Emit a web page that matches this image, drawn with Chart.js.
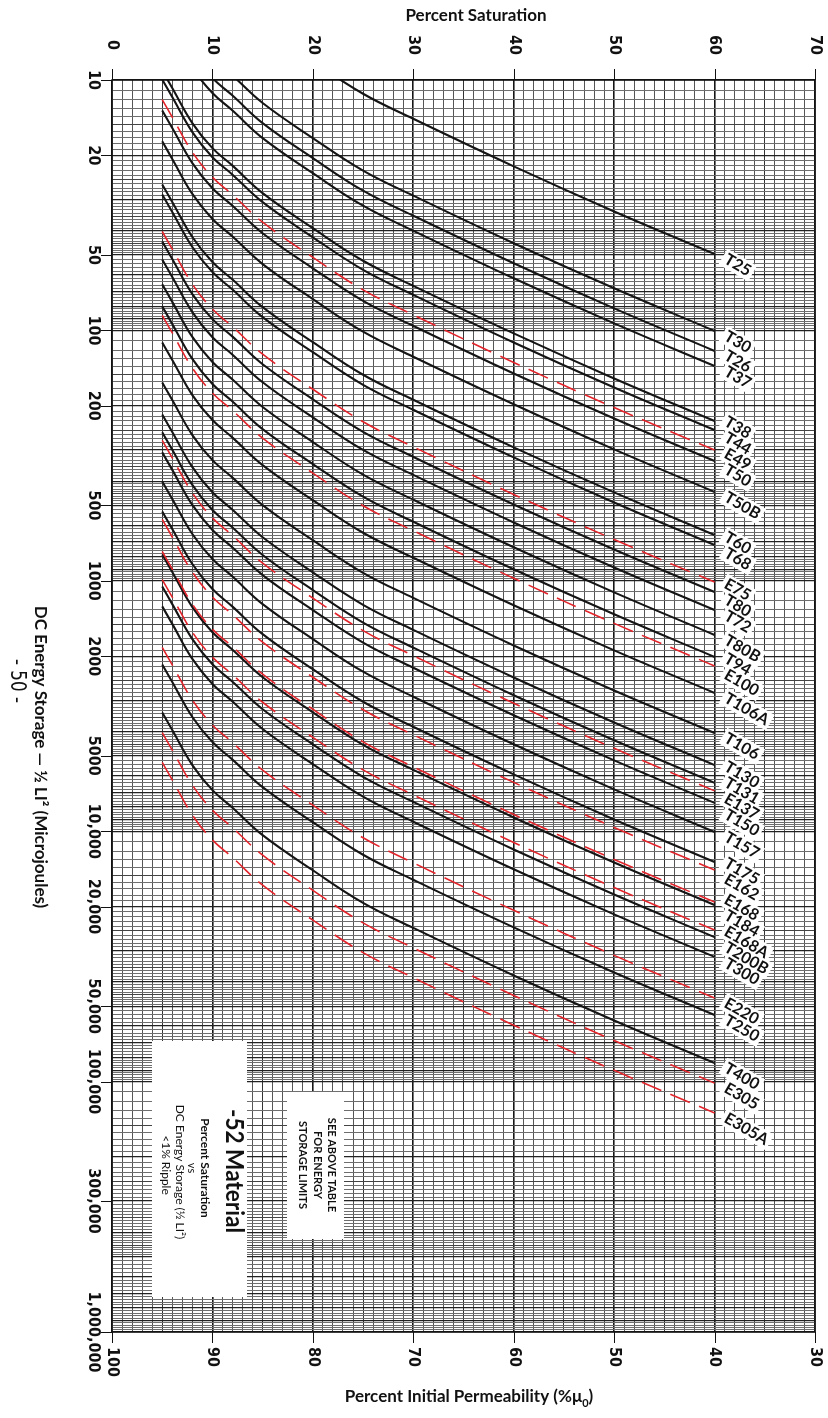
<!DOCTYPE html>
<html>
<head>
<meta charset="utf-8">
<script src="https://cdn.jsdelivr.net/npm/chart.js@4.4.1/dist/chart.umd.min.js"></script>
<style>
html,body{margin:0;padding:0;background:#fff;}
canvas{display:block;}
</style>
</head>
<body>
<canvas id="c" width="828" height="1418"></canvas>
<script>
// ---------------- DATA ----------------
// Percent saturation at which each curve was read
const saturationPoints = [5, 6, 8, 10, 12, 15, 20, 25, 30, 40, 50, 60];

// DC energy storage (microjoules) of each core at those saturation points
const T25   = [1.972, 2.317, 3.199, 4.027, 4.732, 6.096, 8.414, 11.35, 14.29, 22.13, 33.50, 49.55];
const T30   = [4.000, 4.699, 6.487, 8.166, 9.594, 12.36, 17.06, 23.01, 28.97, 44.87, 67.92, 100.5];
const T26   = [4.808, 5.649, 7.798, 9.818, 11.53, 14.86, 20.51, 27.67, 34.83, 53.95, 81.66, 120.8];
const T37   = [5.521, 6.487, 8.954, 11.27, 13.24, 17.06, 23.55, 31.77, 39.99, 61.95, 93.76, 138.7];
const T38   = [9.163, 10.77, 14.86, 18.71, 21.98, 28.31, 39.08, 52.72, 66.38, 102.8, 155.6, 230.2];
const T44   = [9.954, 11.70, 16.15, 20.33, 23.88, 30.76, 42.47, 57.28, 72.11, 111.7, 169.0, 250.1];
const E49   = [11.97, 14.06, 19.41, 24.44, 28.71, 36.98, 51.06, 68.87, 86.70, 134.3, 203.3, 300.6];
const T50   = [13.24, 15.56, 21.48, 27.04, 31.77, 40.93, 56.49, 76.21, 95.94, 148.6, 224.9, 332.6];
const T50B  = [17.58, 20.66, 28.51, 35.90, 42.18, 54.33, 75.00, 101.2, 127.4, 197.2, 298.6, 441.6];
const T60   = [26.12, 30.69, 42.37, 53.33, 62.67, 80.73, 111.4, 150.4, 189.2, 293.1, 443.6, 656.2];
const T68   = [28.64, 33.65, 46.45, 58.48, 68.71, 88.52, 122.2, 164.9, 207.5, 321.4, 486.4, 719.5];
const E75   = [40.27, 47.32, 65.32, 82.23, 96.61, 124.5, 171.8, 231.7, 291.7, 451.9, 684.0, 1012];
const T80   = [44.16, 51.89, 71.61, 90.16, 105.9, 136.5, 188.4, 254.1, 319.9, 495.5, 750.0, 1109];
const T72   = [52.12, 61.24, 84.53, 106.5, 125.0, 161.1, 222.4, 299.9, 377.6, 584.8, 885.2, 1309];
const T80B  = [65.47, 76.92, 106.2, 133.7, 157.1, 202.3, 279.2, 376.7, 474.2, 734.5, 1112, 1645];
const T94   = [80.17, 94.20, 130.0, 163.7, 192.3, 247.8, 342.0, 461.3, 580.8, 899.6, 1361, 2014];
const E100  = [87.10, 102.3, 141.3, 177.8, 208.9, 269.2, 371.5, 501.2, 631.0, 977.2, 1479, 2188];
const T106A = [111.7, 131.2, 181.2, 228.1, 268.0, 345.1, 476.4, 642.8, 809.1, 1253, 1896, 2805];
const T106  = [161.5, 189.6, 261.8, 329.6, 387.2, 498.9, 688.7, 929.0, 1170, 1812, 2742, 4055];
const T130  = [216.8, 254.7, 351.6, 442.6, 520.0, 669.9, 924.8, 1247, 1571, 2433, 3681, 5445];
const T131  = [255.3, 299.9, 414.1, 521.2, 612.4, 788.9, 1089, 1469, 1849, 2864, 4335, 6413];
const E137  = [274.8, 322.9, 445.7, 561.0, 659.2, 849.2, 1172, 1581, 1991, 3083, 4666, 6902];
const T150  = [306.9, 360.6, 497.8, 626.7, 736.2, 948.5, 1309, 1766, 2224, 3443, 5212, 7709];
const T157  = [400.9, 471.0, 650.2, 818.5, 961.7, 1239, 1710, 2307, 2904, 4498, 6808, 10070];
const T175  = [528.5, 620.9, 857.1, 1079, 1268, 1633, 2255, 3041, 3828, 5929, 8975, 13270];
const E162  = [568.9, 668.4, 922.7, 1161, 1365, 1758, 2427, 3273, 4121, 6383, 9661, 14290];
const E168  = [763.9, 897.5, 1239, 1560, 1833, 2361, 3259, 4396, 5533, 8571, 12970, 19190];
const T184  = [785.3, 922.7, 1274, 1604, 1884, 2427, 3350, 4519, 5689, 8812, 13340, 19720];
const E168A = [988.6, 1161, 1604, 2018, 2371, 3055, 4218, 5689, 7161, 11090, 16790, 24830];
const T200B = [1054, 1239, 1710, 2153, 2529, 3259, 4498, 6068, 7639, 11830, 17910, 26490];
const T300  = [1265, 1486, 2051, 2582, 3034, 3908, 5395, 7278, 9163, 14190, 21480, 31770];
const E220  = [1845, 2168, 2992, 3767, 4426, 5702, 7871, 10620, 13370, 20700, 31330, 46350];
const T250  = [2158, 2535, 3499, 4406, 5177, 6669, 9205, 12420, 15630, 24210, 36650, 54200];
const T400  = [3357, 3945, 5445, 6855, 8054, 10370, 14320, 19320, 24330, 37670, 57020, 84340];
const E305  = [4037, 4742, 6547, 8242, 9683, 12470, 17220, 23230, 29240, 45290, 68550, 101400];
const E305A = [5309, 6238, 8610, 10840, 12740, 16410, 22650, 30550, 38460, 59560, 90160, 133400];

const coreNames = ['T25','T30','T26','T37','T38','T44','E49','T50','T50B','T60','T68','E75','T80','T72',
  'T80B','T94','E100','T106A','T106','T130','T131','E137','T150','T157','T175','E162','E168','T184',
  'E168A','T200B','T300','E220','T250','T400','E305','E305A'];
const coreValues = [T25,T30,T26,T37,T38,T44,E49,T50,T50B,T60,T68,E75,T80,T72,T80B,T94,E100,T106A,T106,
  T130,T131,E137,T150,T157,T175,E162,E168,T184,E168A,T200B,T300,E220,T250,T400,E305,E305A];

// Axis tick labels
const energyTicks = [10, 20, 50, 100, 200, 500, 1000, 2000, 5000, 10000, 20000, 50000, 100000, 300000, 1000000];
const energyTickLabels = ['10','20','50','100','200','500','1000','2000','5000','10,000','20,000','50,000','100,000','300,000','1,000,000'];
const saturationTicks = [0, 10, 20, 30, 40, 50, 60, 70];
const permeabilityTicks = [100, 90, 80, 70, 60, 50, 40, 30];

// ---------------- GRAPH-PAPER GRID (style only) ----------------
const satGrid = [];
for (let v = 0; v <= 70; v++) satGrid.push({ value: v, lvl: v % 10 === 0 ? 2 : (v % 5 === 0 ? 1 : 0) });
const energyGrid = [];
for (let d = 1; d <= 5; d++) {
  const b = Math.pow(10, d);
  const push = m => energyGrid.push({ value: m / 10 * b, lvl: m % 10 === 0 ? 2 : (m % 5 === 0 ? 1 : 0) });
  for (let m = 10; m < 50; m++) push(m);
  for (let m = 50; m < 100; m += 2) push(m);
}
energyGrid.push({ value: 1e6, lvl: 2 });

// ---------------- DATASETS ----------------
const datasets = coreNames.map((name, i) => {
  const isE = name[0] === 'E';
  return {
    label: name,
    data: saturationPoints.map((s, k) => ({ x: s, y: coreValues[i][k] })),
    borderColor: isE ? '#e3242b' : '#151515',
    borderWidth: isE ? 1.6 : 2.1,
    borderDash: isE ? [21, 10] : [],
    pointRadius: 0,
    fill: false,
    tension: 0.4,
    order: isE ? 0 : 1,
    xAxisID: 'x',
    yAxisID: 'y'
  };
});

// ---------------- TEXT / ANNOTATION PLUGIN ----------------
const NUM_FONT = '"Liberation Sans Narrow", "DejaVu Sans Condensed", "Roboto Condensed", Lato, sans-serif';
const TXT_FONT = 'Lato, "Open Sans", "Noto Sans", sans-serif';

function rotText(ctx, text, x, y, font, align, maxW) {
  ctx.save();
  ctx.translate(x, y);
  ctx.rotate(Math.PI / 2);
  ctx.font = font;
  ctx.textAlign = align || 'center';
  ctx.textBaseline = 'middle';
  ctx.fillStyle = '#111';
  if (maxW) ctx.fillText(text, 0, 0, maxW); else ctx.fillText(text, 0, 0);
  ctx.restore();
}

const annotate = {
  id: 'annotate',
  afterDraw(chart) {
    const ctx = chart.ctx;
    const xs = chart.scales.x, x2 = chart.scales.x2, ys = chart.scales.y;
    const a = chart.chartArea;
    ctx.save();

    // frame
    ctx.strokeStyle = '#111';
    ctx.lineWidth = 1.5;
    ctx.strokeRect(a.left, a.top, a.right - a.left, a.bottom - a.top);

    // tick marks
    ctx.lineWidth = 1;
    ctx.beginPath();
    saturationTicks.forEach(v => { const x = Math.round(xs.getPixelForValue(v)) + 0.5; ctx.moveTo(x, a.top - 11); ctx.lineTo(x, a.top); });
    permeabilityTicks.forEach(v => { const x = Math.round(x2.getPixelForValue(v)) + 0.5; ctx.moveTo(x, a.bottom); ctx.lineTo(x, a.bottom + 11); });
    energyTicks.forEach(v => { const y = Math.round(ys.getPixelForValue(v)) + 0.5; ctx.moveTo(a.left - 11, y); ctx.lineTo(a.left, y); });
    ctx.stroke();

    // tick labels (rotated like the reference)
    const tf = 'bold 16px ' + NUM_FONT;
    saturationTicks.forEach(v => rotText(ctx, String(v), xs.getPixelForValue(v), 45, tf));
    permeabilityTicks.forEach(v => rotText(ctx, String(v), x2.getPixelForValue(v), 1347, tf, 'left'));
    energyTicks.forEach((v, i) => rotText(ctx, energyTickLabels[i], 93, ys.getPixelForValue(v), tf));

    // axis titles
    ctx.fillStyle = '#111';
    ctx.textBaseline = 'middle';
    ctx.textAlign = 'center';
    ctx.font = 'bold 17px ' + TXT_FONT;
    ctx.fillText('Percent Saturation', 476, 16, 162);
    const t1 = 'Percent Initial Permeability (%\u03BC';
    ctx.font = 'bold 17px ' + TXT_FONT;
    const w1 = ctx.measureText(t1).width;
    ctx.font = 'bold 11px ' + TXT_FONT;
    const w2 = ctx.measureText('0').width;
    ctx.font = 'bold 17px ' + TXT_FONT;
    const w3 = ctx.measureText(')').width;
    const tot = w1 + w2 + w3;
    const sx = 469 - tot / 2;
    ctx.textAlign = 'left';
    ctx.fillText(t1, sx, 1397);
    ctx.font = 'bold 11px ' + TXT_FONT;
    ctx.fillText('0', sx + w1, 1403);
    ctx.font = 'bold 17px ' + TXT_FONT;
    ctx.fillText(')', sx + w1 + w2, 1397);

    rotText(ctx, 'DC Energy Storage \u2014 \u00BD LI\u00B2 (Microjoules)', 40, 757, 'bold 17px ' + TXT_FONT, 'center', 358);
    rotText(ctx, '- 50 -', 17, 681, '22px ' + NUM_FONT, 'center', 44);

    // annotation boxes
    ctx.fillStyle = '#fff';
    ctx.fillRect(152, 1041, 95, 256);
    ctx.fillRect(287, 1092, 57, 147);
    rotText(ctx, '-52 Material', 234, 1171, 'bold 25px ' + TXT_FONT, 'center', 124);
    rotText(ctx, 'Percent Saturation', 205, 1168, 'bold 12px ' + TXT_FONT, 'center', 104);
    rotText(ctx, 'vs', 192, 1168, '11px ' + TXT_FONT, 'center');
    rotText(ctx, 'DC Energy Storage (\u00BD LI\u00B2)', 180, 1172, '12px ' + TXT_FONT, 'center', 156);
    rotText(ctx, '<1% Ripple', 166, 1165, '12px ' + TXT_FONT, 'center', 60);
    rotText(ctx, 'SEE ABOVE TABLE', 332, 1165, 'bold 11px ' + TXT_FONT, 'center', 102);
    rotText(ctx, 'FOR ENERGY', 318, 1165, 'bold 11px ' + TXT_FONT, 'center', 76);
    rotText(ctx, 'STORAGE LIMITS', 303, 1165, 'bold 11px ' + TXT_FONT, 'center', 98);

    // curve labels at the end of each curve
    const items = coreNames.map((name, i) => {
      const pts = chart.getDatasetMeta(i).data;
      const p = pts[pts.length - 1];
      return { name, x: p.x, y: p.y, ly: p.y + 4 };
    }).sort((m, n) => m.y - n.y);
    const gap = 16;
    for (let it = 0; it < 80; it++) {
      for (let k = 1; k < items.length; k++) {
        const g = items[k].ly - items[k - 1].ly;
        if (g < gap) { const d = (gap - g) / 2; items[k].ly += d; items[k - 1].ly -= d; }
      }
    }
    const lf = 'bold 16px ' + TXT_FONT;
    ctx.font = lf;
    const ang = Math.PI / 6;
    items.forEach(it => {
      const w = ctx.measureText(it.name).width;
      ctx.save();
      ctx.translate(it.x + 11, it.ly);
      ctx.rotate(ang);
      ctx.fillStyle = '#fff';
      ctx.fillRect(-3, -9, w + 6, 18);
      ctx.restore();
    });
    items.forEach(it => {
      ctx.save();
      ctx.translate(it.x + 11, it.ly);
      ctx.rotate(ang);
      ctx.font = lf;
      ctx.fillStyle = '#111';
      ctx.textAlign = 'left';
      ctx.textBaseline = 'middle';
      ctx.fillText(it.name, 0, 0);
      ctx.restore();
    });
    ctx.restore();
  }
};

const gridColor = c => { const l = c.tick ? c.tick.lvl : 0; return l === 2 ? '#161616' : (l === 1 ? '#333' : '#555'); };
const hGridColor = c => { const l = c.tick ? c.tick.lvl : 0; return l === 2 ? '#222' : (l === 1 ? '#444' : '#6e6e6e'); };

new Chart(document.getElementById('c'), {
  type: 'line',
  data: { datasets },
  options: {
    responsive: false,
    animation: false,
    devicePixelRatio: 1,
    layout: { padding: { left: 112, right: 13, top: 80, bottom: 86 } },
    plugins: { legend: { display: false }, tooltip: { enabled: false }, title: { display: false } },
    elements: { point: { radius: 0 } },
    scales: {
      x: {
        type: 'linear', position: 'top', min: 0, max: 70,
        ticks: { display: false },
        border: { display: false },
        grid: { drawTicks: false, color: gridColor, lineWidth: c => (c.tick && c.tick.lvl === 2 ? 1.6 : 1) },
        afterBuildTicks: s => { s.ticks = satGrid.map(g => ({ value: g.value, lvl: g.lvl })); },
        afterFit: s => { s.height = 0; }
      },
      x2: {
        type: 'linear', position: 'bottom', min: 30, max: 100, reverse: true,
        ticks: { display: false },
        border: { display: false },
        grid: { display: false },
        afterFit: s => { s.height = 0; }
      },
      y: {
        type: 'logarithmic', position: 'left', min: 10, max: 1000000, reverse: true,
        ticks: { display: false },
        border: { display: false },
        grid: { drawTicks: false, color: hGridColor, lineWidth: c => (c.tick && c.tick.lvl === 2 ? 1.2 : 1) },
        afterBuildTicks: s => { s.ticks = energyGrid.map(g => ({ value: g.value, lvl: g.lvl })); },
        afterFit: s => { s.width = 0; }
      }
    }
  },
  plugins: [annotate]
});
</script>
</body>
</html>
